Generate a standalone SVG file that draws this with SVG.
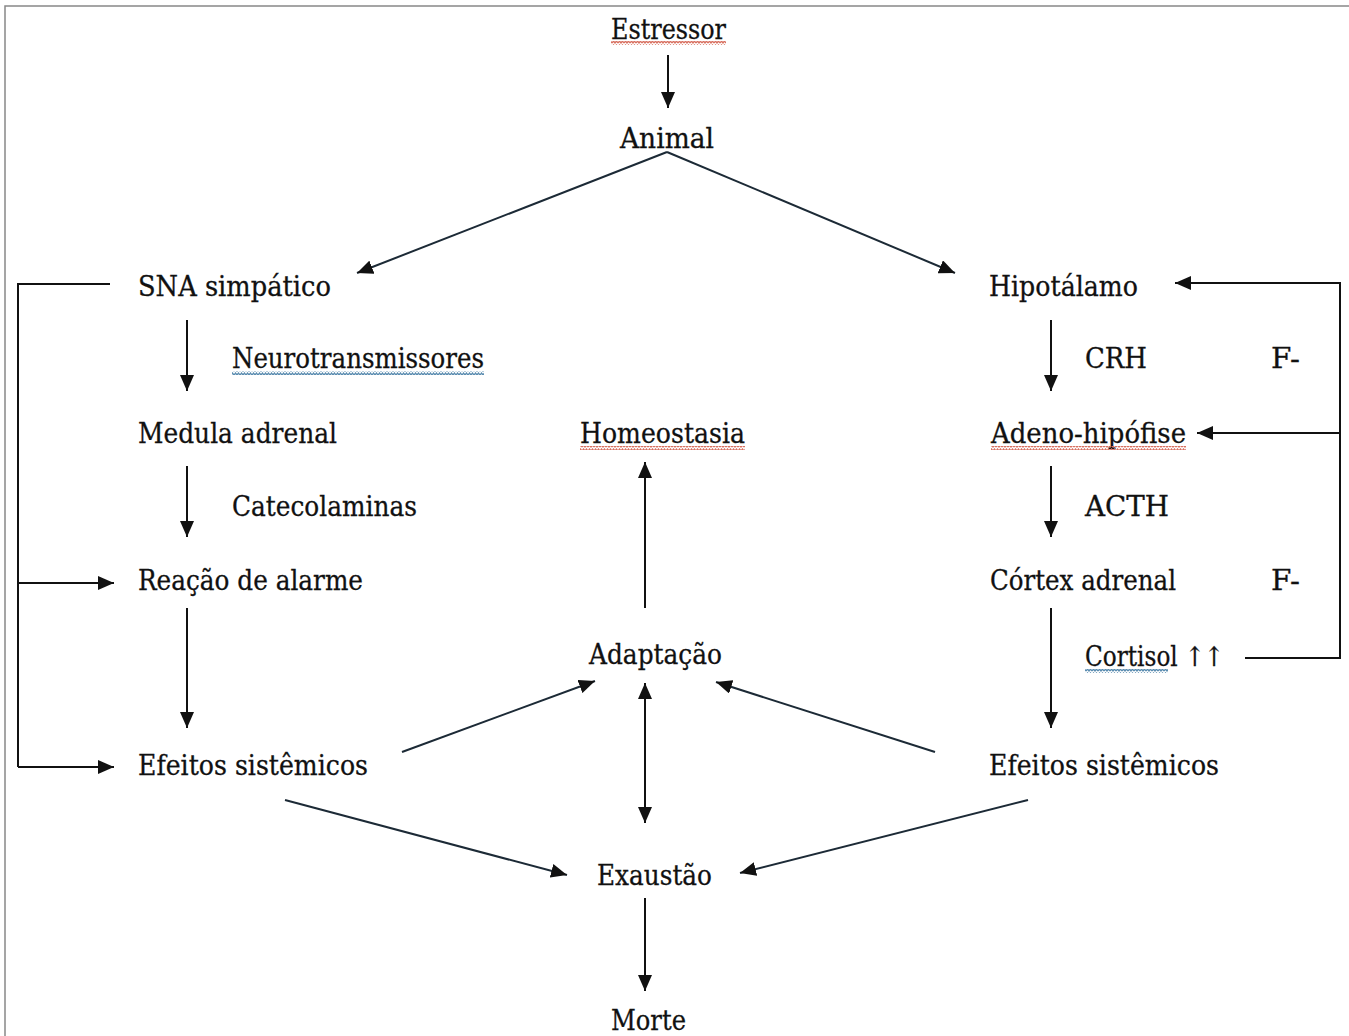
<svg xmlns="http://www.w3.org/2000/svg" width="1349" height="1036" viewBox="0 0 1349 1036">
<defs>
<marker id="ah" viewBox="0 0 16 14" refX="16" refY="7" markerWidth="16" markerHeight="14" markerUnits="userSpaceOnUse" orient="auto">
<path d="M0,0 L16,7 L0,14 Z" fill="#111"/>
</marker>
<marker id="ahs" viewBox="0 0 16 14" refX="0" refY="7" markerWidth="16" markerHeight="14" markerUnits="userSpaceOnUse" orient="auto">
<path d="M16,0 L0,7 L16,14 Z" fill="#111"/>
</marker>
<pattern id="waveR" width="6" height="4" patternUnits="userSpaceOnUse">
<path d="M0,3 L1.5,1 L3,3 L4.5,1 L6,3" fill="none" stroke="#d87060" stroke-width="1.3"/>
</pattern>
<pattern id="waveB" width="6" height="4" patternUnits="userSpaceOnUse">
<path d="M0,3 L1.5,1 L3,3 L4.5,1 L6,3" fill="none" stroke="#5a8cb0" stroke-width="1.3"/>
</pattern>
</defs>
<style>
text{font-family:"DejaVu Serif","Liberation Serif",serif;font-size:27px;fill:#111;stroke:#111;stroke-width:0.3}
.c line,.c path{stroke:#111;stroke-width:2;fill:none}
.c .d{stroke:#1c2a36;stroke-width:2}
</style>
<rect width="1349" height="1036" fill="#ffffff"/>
<path d="M5,1036 L5,6 L1349,6" fill="none" stroke="#888" stroke-width="1.5"/>

<g class="c" id="connectors">
<line x1="668" y1="55" x2="668" y2="108" marker-end="url(#ah)"/>
<line class="d" x1="667" y1="152" x2="357" y2="273" marker-end="url(#ah)"/>
<line class="d" x1="667" y1="152" x2="955" y2="273" marker-end="url(#ah)"/>
<path d="M110,284 L18,284 L18,767"/>
<line x1="18" y1="583" x2="114" y2="583" marker-end="url(#ah)"/>
<line x1="18" y1="767" x2="114" y2="767" marker-end="url(#ah)"/>
<line x1="187" y1="320" x2="187" y2="391" marker-end="url(#ah)"/>
<line x1="187" y1="466" x2="187" y2="537" marker-end="url(#ah)"/>
<line x1="187" y1="608" x2="187" y2="728" marker-end="url(#ah)"/>
<line x1="645" y1="608" x2="645" y2="462" marker-end="url(#ah)"/>
<line x1="645" y1="683" x2="645" y2="823" marker-start="url(#ahs)" marker-end="url(#ah)"/>
<line class="d" x1="402" y1="752" x2="595" y2="681" marker-end="url(#ah)"/>
<line class="d" x1="935" y1="752" x2="716" y2="682" marker-end="url(#ah)"/>
<line class="d" x1="285" y1="800" x2="567" y2="875" marker-end="url(#ah)"/>
<line class="d" x1="1028" y1="800" x2="740" y2="873" marker-end="url(#ah)"/>
<line x1="645" y1="898" x2="645" y2="991" marker-end="url(#ah)"/>
<line x1="1051" y1="320" x2="1051" y2="391" marker-end="url(#ah)"/>
<line x1="1051" y1="466" x2="1051" y2="537" marker-end="url(#ah)"/>
<line x1="1051" y1="608" x2="1051" y2="728" marker-end="url(#ah)"/>
<path d="M1245,658 L1340,658 L1340,283 L1175,283" marker-end="url(#ah)"/>
<line x1="1340" y1="433" x2="1197" y2="433" marker-end="url(#ah)"/>
</g>

<g id="n-estressor"><text x="611" y="39" textLength="115" lengthAdjust="spacingAndGlyphs">Estressor</text><rect x="611" y="41" width="115" height="4" fill="url(#waveR)"/></g>
<g id="n-animal"><text x="620" y="148" textLength="94" lengthAdjust="spacingAndGlyphs">Animal</text></g>
<g id="n-sna"><text x="138" y="296" textLength="193" lengthAdjust="spacingAndGlyphs">SNA simpático</text></g>
<g id="n-neuro"><text x="232" y="368" textLength="252" lengthAdjust="spacingAndGlyphs">Neurotransmissores</text><rect x="232" y="371" width="252" height="4" fill="url(#waveB)"/></g>
<g id="n-medula"><text x="138" y="443" textLength="199" lengthAdjust="spacingAndGlyphs">Medula adrenal</text></g>
<g id="n-catecol"><text x="232" y="516" textLength="185" lengthAdjust="spacingAndGlyphs">Catecolaminas</text></g>
<g id="n-reacao"><text x="138" y="590" textLength="225" lengthAdjust="spacingAndGlyphs">Reação de alarme</text></g>
<g id="n-efeitos-l"><text x="138" y="775" textLength="230" lengthAdjust="spacingAndGlyphs">Efeitos sistêmicos</text></g>
<g id="n-homeo"><text x="580" y="443" textLength="165" lengthAdjust="spacingAndGlyphs">Homeostasia</text><rect x="580" y="446" width="165" height="4" fill="url(#waveR)"/></g>
<g id="n-adapt"><text x="589" y="664" textLength="133" lengthAdjust="spacingAndGlyphs">Adaptação</text></g>
<g id="n-exaust"><text x="597" y="885" textLength="115" lengthAdjust="spacingAndGlyphs">Exaustão</text></g>
<g id="n-morte"><text x="611" y="1030" textLength="75" lengthAdjust="spacingAndGlyphs">Morte</text></g>
<g id="n-hipot"><text x="989" y="296" textLength="149" lengthAdjust="spacingAndGlyphs">Hipotálamo</text></g>
<g id="n-crh"><text x="1085" y="368" textLength="62" lengthAdjust="spacingAndGlyphs">CRH</text></g>
<g id="n-f1"><text x="1271" y="368" textLength="29" lengthAdjust="spacingAndGlyphs">F-</text></g>
<g id="n-adeno"><text x="991" y="443" textLength="195" lengthAdjust="spacingAndGlyphs">Adeno-hipófise</text><rect x="991" y="446" width="195" height="4" fill="url(#waveR)"/></g>
<g id="n-acth"><text x="1085" y="516" textLength="84" lengthAdjust="spacingAndGlyphs">ACTH</text></g>
<g id="n-cortex"><text x="990" y="590" textLength="186" lengthAdjust="spacingAndGlyphs">Córtex adrenal</text></g>
<g id="n-f2"><text x="1271" y="590" textLength="29" lengthAdjust="spacingAndGlyphs">F-</text></g>
<g id="n-cortisol"><text x="1085" y="666" textLength="139" lengthAdjust="spacingAndGlyphs">Cortisol ↑↑</text><rect x="1085" y="669" width="83" height="4" fill="url(#waveB)"/></g>
<g id="n-efeitos-r"><text x="989" y="775" textLength="230" lengthAdjust="spacingAndGlyphs">Efeitos sistêmicos</text></g>
</svg>
